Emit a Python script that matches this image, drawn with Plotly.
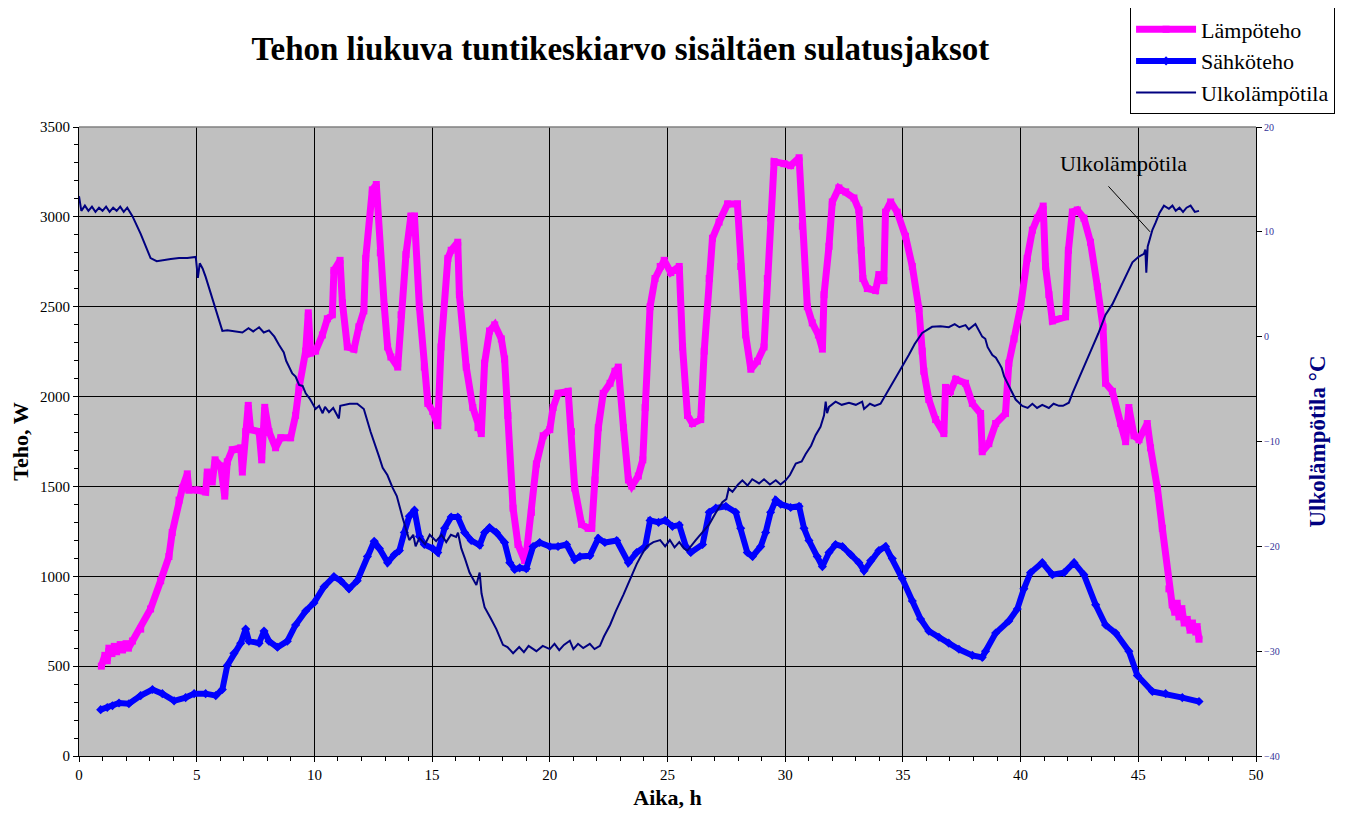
import plotly.graph_objects as go

# ---- data ----
heat_t = [0.95, 1.1, 1.2, 1.27, 1.4, 1.5, 1.6, 1.75, 1.85, 2.0, 2.1, 2.27,
          2.62, 3.04, 3.47, 3.82, 3.96, 4.25, 4.39, 4.6, 4.67, 5.03, 5.38, 5.45, 5.66, 5.78, 6.02, 6.19,
          6.30, 6.51, 6.87, 6.94, 7.08, 7.19, 7.29, 7.65, 7.76, 7.89, 8.07, 8.35, 8.57, 8.99, 9.2, 9.35,
          9.63, 9.74, 9.84, 10.05, 10.34, 10.55, 10.76, 10.83, 11.09, 11.19, 11.4, 11.68, 11.89, 12.1,
          12.18, 12.46, 12.63, 12.8, 12.97, 13.11, 13.25, 13.54, 13.68, 13.89, 14.1, 14.25, 14.46, 14.67,
          14.82, 15.03, 15.24, 15.38, 15.67, 15.81, 16.09, 16.16, 16.45, 16.73, 16.95, 17.09, 17.23, 17.44,
          17.66, 17.94, 18.08, 18.22, 18.44, 18.65, 18.93, 19.0, 19.22, 19.43, 19.72, 20.0, 20.14, 20.35,
          20.78, 20.92, 21.06, 21.35, 21.63, 21.78, 21.92, 22.06, 22.27, 22.56, 22.77, 22.91, 23.13, 23.34,
          23.48, 23.76, 23.95, 24.05, 24.26, 24.47, 24.69, 24.86, 25.14, 25.5, 25.64, 25.85, 26.06, 26.41,
          26.56, 26.77, 26.91, 27.19, 27.55, 27.97, 28.11, 28.32, 28.54, 28.82, 29.1, 29.24, 29.38, 29.53,
          29.95, 30.23, 30.59, 30.73, 30.94, 31.15, 31.41, 31.58, 31.65, 31.86, 32.0, 32.28, 32.57, 32.92,
          33.13, 33.23, 33.3, 33.49, 33.84, 33.98, 34.19, 34.26, 34.48, 34.76, 35.11, 35.4, 35.68, 35.82,
          35.89, 36.1, 36.39, 36.74, 36.81, 37.02, 37.24, 37.66, 37.95, 38.3, 38.37, 38.65, 38.94, 39.36,
          39.5, 39.72, 40.0, 40.28, 40.5, 40.71, 40.96, 41.06, 41.2, 41.35, 41.91, 42.03, 42.2, 42.41,
          42.69, 42.97, 43.26, 43.5, 43.61, 43.9, 44.25, 44.46, 44.6, 44.82, 45.03, 45.38, 45.52, 45.81,
          46.02, 46.3, 46.44, 46.55, 46.65, 46.73, 46.85, 46.95, 47.08, 47.2, 47.3, 47.44, 47.5, 47.58]
heat_w = [500, 560, 530, 600, 570, 610, 580, 620, 590, 625, 600, 640,
          706, 818, 975, 1110, 1244, 1424, 1491, 1570, 1480, 1480, 1469, 1580, 1525, 1648, 1614, 1446,
          1637, 1704, 1715, 1580, 1805, 1951, 1816, 1805, 1648, 1940, 1805, 1715, 1771, 1771, 1895, 2051,
          2253, 2466, 2242, 2253, 2343, 2433, 2455, 2702, 2758, 2522, 2276, 2264, 2388, 2477,
          2769, 3150, 3180, 2800, 2500, 2276, 2220, 2164, 2455, 2791, 3004, 3004, 2500, 2164,
          1962, 1917, 1838, 2276, 2769, 2814, 2859, 2567, 2164, 1939, 1827, 1794, 2186, 2365,
          2399, 2321, 2209, 1895, 1379, 1177, 1087, 1121, 1356, 1625, 1782, 1816, 1939, 2018,
          2029, 1805, 1491, 1289, 1267, 1267, 1536, 1827, 2018, 2074, 2141, 2164, 1827, 1536,
          1502, 1558, 1648, 1939, 2500, 2657, 2724, 2758, 2690, 2724, 2276, 1895, 1850, 1872,
          2253, 2657, 2881, 2971, 3072, 3072, 2724, 2343, 2152, 2197, 2276, 2657, 2993, 3307,
          3296, 3285, 3329, 2948, 2500, 2410, 2343, 2264, 2567, 2836, 3083, 3161, 3139, 3105,
          3038, 2814, 2657, 2601, 2590, 2679, 2645, 3026, 3083, 3026, 2892, 2724, 2489, 2253,
          2141, 1984, 1872, 1794, 2051, 2029, 2096, 2074, 1962, 1906, 1693, 1738, 1850, 1906,
          2186, 2321, 2500, 2769, 2926, 2993, 3060, 2724, 2567, 2421, 2444, 2814, 3027, 3038,
          2993, 2859, 2612, 2388, 2074, 2029, 1850, 1749, 1939, 1782, 1760, 1850, 1715, 1491,
          1267, 930, 841, 800, 850, 774, 820, 740, 760, 700, 740, 690, 720, 650]

elec_t = [0.92, 1.2, 1.42, 1.7, 2.12, 2.62, 3.12, 3.54, 4.04, 4.53, 4.89, 5.38, 5.81, 6.09, 6.3, 6.58,
          6.87, 7.08, 7.22, 7.65, 7.86, 8.07, 8.43, 8.85, 9.2, 9.63, 9.98, 10.41, 10.83, 11.12, 11.47,
          11.82, 12.25, 12.54, 12.76, 13.11, 13.4, 13.61, 13.82, 14.03, 14.25, 14.46, 14.67, 15.03, 15.24,
          15.53, 15.81, 16.09, 16.38, 16.66, 17.02, 17.23, 17.44, 17.73, 18.08, 18.3, 18.51, 18.72, 19.0,
          19.29, 19.57, 20.0, 20.35, 20.71, 21.06, 21.28, 21.7, 22.06, 22.34, 22.84, 23.34, 23.69, 24.05,
          24.26, 24.62, 24.9, 25.21, 25.5, 25.78, 25.99, 26.49, 26.77, 27.05, 27.48, 27.9, 28.11, 28.39,
          28.61, 28.96, 29.17, 29.38, 29.6, 29.81, 30.23, 30.59, 30.8, 31.01, 31.36, 31.58, 31.86, 32.14,
          32.43, 32.78, 33.13, 33.35, 33.63, 33.98, 34.26, 34.55, 34.97, 35.4, 35.75, 36.1, 36.53, 36.95,
          37.38, 37.95, 38.37, 38.51, 38.94, 39.5, 39.86, 40.14, 40.42, 40.92, 41.35, 41.84, 42.27, 42.69,
          43.19, 43.61, 44.04, 44.6, 44.96, 45.6, 46.16, 46.87, 47.58]
elec_w = [258, 270, 280, 295, 291, 336, 370, 347, 307, 325, 347, 347, 336, 370, 504, 572,
          628, 706, 639, 628, 695, 639, 605, 639, 729, 807, 852, 942, 998, 975, 930,
          975, 1110, 1195, 1155, 1076, 1121, 1143, 1244, 1334, 1368, 1222, 1177, 1155, 1132,
          1267, 1330, 1330, 1244, 1199, 1173, 1244, 1271, 1244, 1188, 1076, 1038, 1047, 1042,
          1166, 1188, 1166, 1166, 1177, 1092, 1110, 1114, 1211, 1188, 1199, 1076, 1132, 1166,
          1311, 1300, 1311, 1278, 1285, 1166, 1132, 1177, 1356, 1379, 1390, 1356, 1267, 1132,
          1110, 1166, 1244, 1356, 1424, 1401, 1383, 1390, 1267, 1199, 1110, 1054, 1132, 1177,
          1166, 1121, 1076, 1031, 1087, 1143, 1166, 1099, 987, 863, 762, 695, 661, 628,
          594, 560, 549, 583, 684, 751, 818, 930, 1020, 1076, 1009, 1020, 1076, 1009,
          841, 729, 684, 583, 448, 359, 347, 325, 303]

temp_t = [0.0, 0.1, 0.25, 0.4, 0.55, 0.7, 0.85, 1.0, 1.15, 1.3, 1.45, 1.6, 1.75, 1.9, 2.05, 2.27,
          2.62, 3.04, 3.3, 3.54, 3.9, 4.25, 4.6, 4.96, 5.05, 5.13, 5.25, 5.38, 5.66, 5.9, 6.09, 6.3,
          6.66, 6.94, 7.2, 7.4, 7.65, 7.85, 8.07, 8.3, 8.5, 8.7, 8.8, 9.06, 9.2, 9.35, 9.5, 9.63, 9.8,
          10.05, 10.2, 10.35, 10.45, 10.62, 10.8, 11.04, 11.1, 11.3, 11.5, 11.82, 12.1, 12.39, 12.6,
          12.74, 12.9, 13.1, 13.32, 13.5, 13.75, 13.9, 14.03, 14.2, 14.3, 14.46, 14.7, 14.9, 15.17,
          15.4, 15.6, 15.8, 16.02, 16.1, 16.24, 16.4, 16.59, 16.88, 17.02, 17.1, 17.23, 17.5, 17.73,
          18.01, 18.2, 18.44, 18.7, 18.9, 19.1, 19.43, 19.7, 20.0, 20.2, 20.4, 20.6, 20.85, 21.0,
          21.2, 21.42, 21.7, 21.9, 22.13, 22.3, 22.56, 22.8, 23.13, 23.4, 23.69, 23.9, 24.12, 24.4,
          24.69, 24.9, 25.1, 25.3, 25.5, 25.7, 25.85, 26.2, 26.5, 26.77, 27.05, 27.33, 27.5, 27.6,
          27.76, 28.0, 28.18, 28.4, 28.6, 28.89, 29.1, 29.35, 29.6, 29.8, 30.02, 30.2, 30.45, 30.7,
          30.87, 31.1, 31.29, 31.5, 31.65, 31.72, 31.78, 31.86, 32.14, 32.4, 32.71, 33.0, 33.27, 33.35,
          33.6, 33.8, 34.05, 34.55, 34.9, 35.25, 35.5, 35.82, 36.24, 36.6, 36.95, 37.2, 37.4, 37.66,
          37.8, 38.08, 38.25, 38.37, 38.5, 38.6, 38.8, 38.95, 39.08, 39.2, 39.3, 39.43, 39.6, 39.79,
          40.07, 40.3, 40.5, 40.7, 40.92, 41.2, 41.4, 41.63, 41.8, 42.05, 42.2, 42.48, 42.75, 43.05,
          43.3, 43.61, 43.9, 44.18, 44.45, 44.75, 45.0, 45.24, 45.3, 45.34, 45.4, 45.45, 45.6, 45.74,
          45.9, 46.09, 46.3, 46.45, 46.59, 46.75, 46.9, 47.05, 47.22, 47.4, 47.58]
temp_c = [13.4, 12.0, 12.5, 12.0, 12.4, 11.9, 12.3, 12.0, 12.4, 11.9, 12.3, 12.0, 12.4, 11.9, 12.3, 11.5,
          9.8, 7.5, 7.2, 7.3, 7.4, 7.5, 7.5, 7.6, 5.6, 7.0, 6.5, 5.7, 3.6, 1.8, 0.55, 0.6,
          0.5, 0.4, 0.8, 0.5, 0.9, 0.4, 0.6, 0.0, -0.8, -1.5, -2.3, -3.5, -3.8, -4.6, -4.7, -5.4, -5.9,
          -6.9, -6.6, -7.3, -6.7, -7.2, -6.8, -7.8, -6.6, -6.5, -6.4, -6.4, -6.9, -9.1, -10.4,
          -11.4, -12.5, -13.2, -14.4, -15.2, -17.3, -18.4, -19.4, -18.9, -20.0, -19.2, -19.8, -18.9, -19.5,
          -18.9, -19.6, -18.9, -19.1, -18.7, -20.2, -21.2, -22.5, -23.7, -22.5, -24.5, -25.8, -26.9, -27.9,
          -29.4, -29.6, -30.2, -29.6, -30.1, -29.5, -30.0, -29.5, -29.8, -29.3, -29.9, -29.4, -29.0, -29.8,
          -29.3, -29.7, -29.3, -29.8, -29.5, -28.6, -27.5, -26.2, -24.6, -23.2, -21.7, -20.8, -20.0, -19.6,
          -19.4, -20.0, -19.4, -20.1, -19.6, -20.2, -20.4, -19.4, -18.6, -17.9, -16.8, -15.8, -15.5, -14.5,
          -14.8, -14.1, -13.7, -14.2, -13.6, -14.0, -13.6, -14.1, -13.7, -14.1, -13.7, -13.2, -12.1, -11.9,
          -11.2, -10.4, -9.4, -8.6, -7.5, -6.2, -7.3, -6.7, -6.2, -6.5, -6.3, -6.5, -6.2, -6.9,
          -6.4, -6.6, -6.4, -4.4, -3.1, -1.75, -0.7, 0.36, 0.94, 1.0, 0.9, 1.2, 0.9, 1.1,
          0.7, 1.2, 0.5, 0.0, -0.2, -1.0, -1.75, -2.0, -2.5, -3.0, -3.8, -4.4, -5.2, -6.0,
          -6.6, -6.8, -6.4, -6.8, -6.5, -6.8, -6.4, -6.6, -6.6, -6.3, -5.4, -3.9, -2.5, -1.0,
          0.3, 2.1, 3.1, 4.4, 5.6, 7.1, 7.6, 7.9, 8.3, 6.1, 8.6, 9.0, 10.2, 10.9,
          11.8, 12.5, 12.2, 12.5, 12.0, 12.3, 11.9, 12.3, 12.5, 11.9, 12.0]

x_ticks = [0, 5, 10, 15, 20, 25, 30, 35, 40, 45, 50]
y_ticks = [0, 500, 1000, 1500, 2000, 2500, 3000, 3500]
y2_ticks = [-40, -30, -20, -10, 0, 10, 20]

SERIF = "Liberation Serif"

fig = go.Figure()
fig.add_trace(go.Scatter(x=heat_t, y=heat_w, name="Lämpöteho", mode="lines+markers",
                         line=dict(color="#FF00FF", width=7),
                         marker=dict(symbol="square", size=7, color="#FF00FF")))
fig.add_trace(go.Scatter(x=elec_t, y=elec_w, name="Sähköteho", mode="lines+markers",
                         line=dict(color="#0000FF", width=6),
                         marker=dict(symbol="diamond", size=7, color="#0000FF")))
fig.add_trace(go.Scatter(x=temp_t, y=temp_c, name="Ulkolämpötila", mode="lines", yaxis="y2",
                         line=dict(color="#000080", width=2)))

# page body has an 8px margin, so the figure is drawn at (8, 8)
fig.update_layout(
    width=1333, height=802,
    margin=dict(l=71, r=85, t=119, b=54, autoexpand=False),
    paper_bgcolor="white", plot_bgcolor="#C0C0C0",
    font=dict(family=SERIF, color="black", size=15),
    title=dict(text="<b>Tehon liukuva tuntikeskiarvo sisältäen sulatusjaksot</b>",
               x=0.46, xref="paper", xanchor="center", y=0.950, yref="container", yanchor="middle",
               font=dict(size=33, family=SERIF, color="black")),
    showlegend=True,
    legend=dict(x=0.893, y=1.19, xanchor="left", yanchor="top", xref="paper", yref="paper",
                bgcolor="white", bordercolor="black", borderwidth=1,
                font=dict(size=22, family=SERIF, color="black"), tracegroupgap=0, itemwidth=60),
    xaxis=dict(range=[0, 50], tickvals=x_ticks, showgrid=True, gridcolor="black", gridwidth=1,
               zeroline=False, showline=True, linecolor="black", linewidth=1, mirror=False,
               ticks="outside", ticklen=5, tickcolor="black",
               minor=dict(dtick=1, ticks="outside", ticklen=4, tickcolor="black", showgrid=False),
               tickfont=dict(size=15, family=SERIF),
               title=dict(text="<b>Aika, h</b>", font=dict(size=22, family=SERIF), standoff=15)),
    yaxis=dict(range=[0, 3500], tickvals=y_ticks, showgrid=True, gridcolor="black", gridwidth=1,
               zeroline=False, showline=True, linecolor="black", linewidth=1,
               ticks="outside", ticklen=5, tickcolor="black",
               minor=dict(dtick=100, ticks="outside", ticklen=4, tickcolor="black", showgrid=False),
               tickfont=dict(size=15, family=SERIF),
               title=dict(text="<b>Teho, W</b>", font=dict(size=22, family=SERIF), standoff=14)),
    yaxis2=dict(range=[-40, 20], tickvals=y2_ticks, overlaying="y", side="right", showgrid=False,
                zeroline=False, showline=True, linecolor="black", linewidth=1,
                ticks="outside", ticklen=5, tickcolor="black",
                tickfont=dict(size=10, family=SERIF, color="#333399"),
                title=dict(text="<b>Ulkolämpötila °C</b>", font=dict(size=23, family=SERIF, color="#000080"),
                           standoff=30)),
)

# top border of plot area
fig.add_shape(type="line", xref="paper", yref="paper", x0=0, x1=1, y0=1, y1=1,
              line=dict(color="#808080", width=1.5))

# callout label for the outdoor temperature line
fig.add_annotation(x=45.5, y=10.0, xref="x", yref="y2", text="", showarrow=True,
                   arrowhead=0, arrowwidth=1, arrowcolor="black", ax=-43, ay=-47)
fig.add_annotation(x=44.36, y=16.54, xref="x", yref="y2", text="Ulkolämpötila", showarrow=False,
                   font=dict(size=22, family=SERIF, color="black"))

fig.write_html("out.html")
